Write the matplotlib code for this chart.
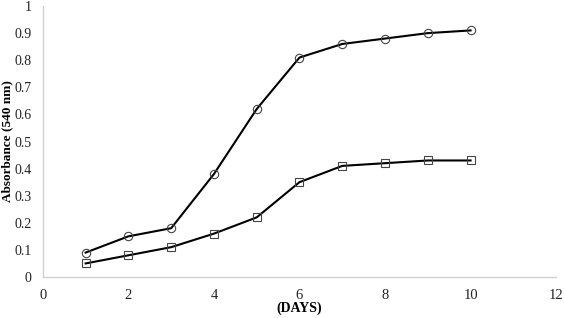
import matplotlib
matplotlib.use("Agg")
import matplotlib.pyplot as plt

# data
days = [1, 2, 3, 4, 5, 6, 7, 8, 9, 10]
circle_abs = [0.09, 0.15, 0.18, 0.38, 0.62, 0.81, 0.86, 0.88, 0.90, 0.91]
square_abs = [0.05, 0.08, 0.11, 0.16, 0.22, 0.35, 0.41, 0.42, 0.43, 0.43]
x_ticks = [0, 2, 4, 6, 8, 10, 12]
y_ticks = [0, 0.1, 0.2, 0.3, 0.4, 0.5, 0.6, 0.7, 0.8, 0.9, 1]
y_tick_labels = ["0", "0.1", "0.2", "0.3", "0.4", "0.5", "0.6", "0.7", "0.8", "0.9", "1"]

plt.rcParams["font.family"] = ["Liberation Serif", "DejaVu Serif"]

fig = plt.figure(figsize=(5.64, 3.18), dpi=100)
ax = fig.add_axes([0.076, 0.129, 0.910, 0.852])

ax.plot(days, circle_abs, color="black", linewidth=1.5, marker="o", markersize=6,
        markerfacecolor="none", markeredgecolor="#444444", markeredgewidth=0.8)
ax.plot(days, square_abs, color="black", linewidth=1.5, marker="s", markersize=6,
        markerfacecolor="none", markeredgecolor="#444444", markeredgewidth=0.8)

ax.set_xlim(0, 12)
ax.set_ylim(0, 1)
ax.set_xticks(x_ticks)
ax.set_yticks(y_ticks)
ax.set_yticklabels(y_tick_labels)
ax.tick_params(axis="y", length=0, labelsize=10, colors="#222222", pad=8)
ax.tick_params(axis="x", length=0, labelsize=10.5, colors="#222222", pad=9)

for side in ["top", "right"]:
    ax.spines[side].set_visible(False)
for side in ["left", "bottom"]:
    ax.spines[side].set_color("#d0d0d0")
    ax.spines[side].set_linewidth(1.0)

ax.set_xlabel("(DAYS)", fontsize=10, fontweight="bold")
ax.xaxis.set_label_coords(0.5, -0.09)
ax.set_ylabel("Absorbance (540 nm)", fontsize=9.5, fontweight="bold")
ax.yaxis.set_label_coords(-0.058, 0.5)

fig.savefig("out.png", dpi=100)
